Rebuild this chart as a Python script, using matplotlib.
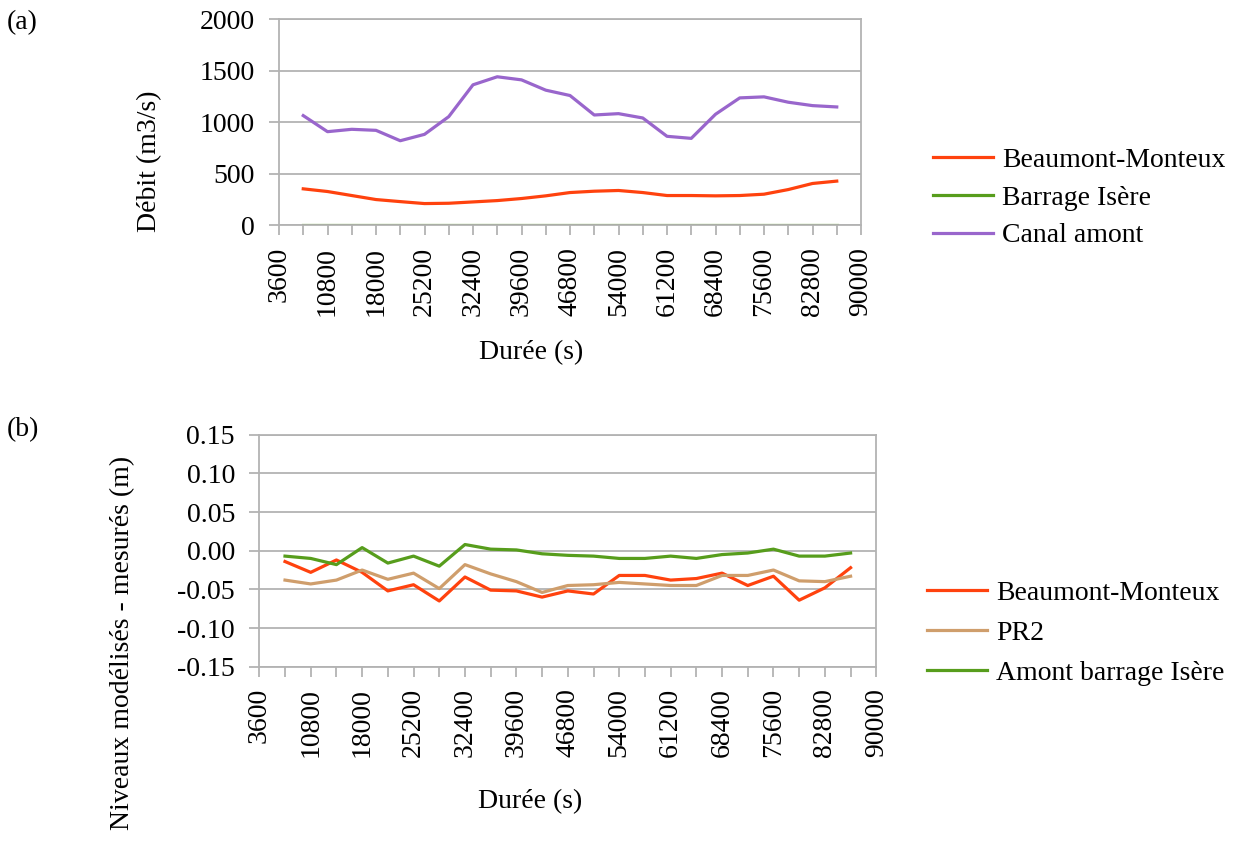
import numpy as np
import matplotlib
matplotlib.use("Agg")
import matplotlib.pyplot as plt

plt.rcParams['font.family'] = ['Liberation Serif', 'DejaVu Serif']
plt.rcParams['axes.unicode_minus'] = False

# categories of the x axis (s), labels shown every other one
durees = [3600 * k for k in range(1, 26)]

# (a) débits (m3/s), from 7200 s to 86400 s
q_beaumont = [354, 328, 289, 250, 230, 211, 214, 227, 240, 260, 286, 318,
              331, 338, 318, 289, 289, 286, 289, 302, 347, 406, 429]
q_barrage = [0] * 23
q_canal = [1065, 909, 932, 922, 821, 883, 1055, 1364, 1442, 1412, 1312, 1260,
           1071, 1084, 1042, 864, 844, 1078, 1237, 1247, 1195, 1162, 1149]

# (b) niveaux modélisés - mesurés (m)
e_beaumont = [-0.014, -0.028, -0.012, -0.028, -0.052, -0.044, -0.065, -0.034,
              -0.051, -0.052, -0.060, -0.052, -0.056, -0.032, -0.032, -0.038,
              -0.036, -0.029, -0.045, -0.033, -0.064, -0.048, -0.022]
e_pr2 = [-0.038, -0.043, -0.038, -0.025, -0.037, -0.029, -0.049, -0.018,
         -0.030, -0.040, -0.054, -0.045, -0.044, -0.041, -0.043, -0.045,
         -0.045, -0.032, -0.032, -0.025, -0.039, -0.040, -0.033]
e_amont = [-0.007, -0.010, -0.018, 0.004, -0.016, -0.007, -0.020, 0.008,
           0.002, 0.001, -0.004, -0.006, -0.007, -0.010, -0.010, -0.007,
           -0.010, -0.005, -0.003, 0.002, -0.007, -0.007, -0.003]

RED = '#ff420e'
GREEN = '#579d1c'
PURPLE = '#9966cc'
TAN = '#cf9e6c'
GRID = '#b3b3b3'
FS = 20

W, H = 1246, 841
fig = plt.figure(figsize=(W / 100, H / 100), dpi=100)


def px_axes(l, t, r, b):
    return fig.add_axes([l / W, 1 - b / H, (r - l) / W, (b - t) / H])


def style(ax):
    n = len(durees)
    ax.set_xlim(0, n - 1)
    ax.set_xticks(range(n))
    ax.set_xticklabels([str(d) if i % 2 == 0 else '' for i, d in enumerate(durees)],
                       rotation=90)
    ax.grid(axis='y', color=GRID, linewidth=1.3)
    ax.set_axisbelow(True)
    for s in ax.spines.values():
        s.set_color(GRID)
        s.set_linewidth(1.3)
    ax.tick_params(axis='both', color=GRID, width=1.3, length=7.5, labelsize=FS)
    ax.tick_params(axis='x', pad=8)
    ax.tick_params(axis='y', pad=10)


xs = np.arange(1, 24)

# ---- (a)
ax1 = px_axes(279, 19.3, 861, 225.3)
ax1.plot(xs, q_beaumont, color=RED, lw=2.3, label='Beaumont-Monteux')
ax1.plot(xs, q_barrage, color=GREEN, lw=2.3, label='Barrage Isère')
ax1.plot(xs, q_canal, color=PURPLE, lw=2.3, label='Canal amont')
ax1.set_ylim(0, 2000)
ax1.set_yticks([0, 500, 1000, 1500, 2000])
style(ax1)
ax1.legend(loc='center left', bbox_to_anchor=(908 / W, 1 - 198 / H),
           bbox_transform=fig.transFigure, frameon=False, fontsize=FS,
           handlelength=2.15, handletextpad=0.35, labelspacing=0.44)

# ---- (b)
ax2 = px_axes(259.3, 434.7, 876.3, 666.7)
ax2.plot(xs, e_beaumont, color=RED, lw=2.3, label='Beaumont-Monteux')
ax2.plot(xs, e_pr2, color=TAN, lw=2.3, label='PR2')
ax2.plot(xs, e_amont, color=GREEN, lw=2.3, label='Amont barrage Isère')
ax2.set_ylim(-0.15, 0.15)
ax2.set_yticks(np.arange(-0.15, 0.151, 0.05))
ax2.set_yticklabels(['%.2f' % v for v in np.arange(-0.15, 0.151, 0.05)])
style(ax2)
ax2.legend(loc='center left', bbox_to_anchor=(902 / W, 1 - 633 / H),
           bbox_transform=fig.transFigure, frameon=False, fontsize=FS,
           handlelength=2.15, handletextpad=0.35, labelspacing=0.53)

# labels
fig.text(531 / W, 1 - 353 / H, 'Durée (s)', ha='center', va='center', fontsize=FS)
fig.text(530 / W, 1 - 802 / H, 'Durée (s)', ha='center', va='center', fontsize=FS)
fig.text(150 / W, 1 - 161 / H, 'Débit (m3/s)', ha='center', va='center',
         rotation=90, fontsize=FS)
fig.text(123 / W, 1 - 643 / H, 'Niveaux modélisés - mesurés (m)', ha='center',
         va='center', rotation=90, fontsize=FS)
fig.text(7 / W, 1 - 23 / H, '(a)', ha='left', va='center', fontsize=FS)
fig.text(7 / W, 1 - 430 / H, '(b)', ha='left', va='center', fontsize=FS)

fig.savefig('out.png', dpi=100)
